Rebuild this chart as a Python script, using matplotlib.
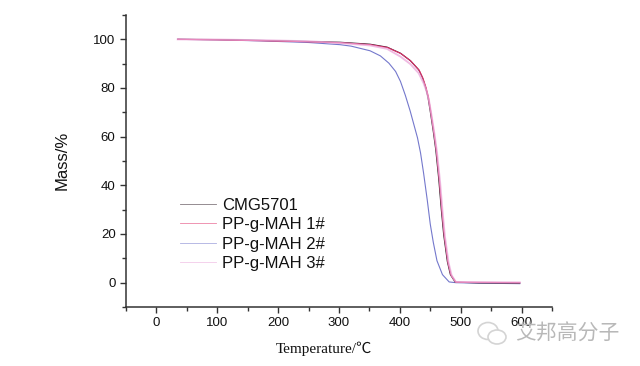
import matplotlib
matplotlib.use('Agg')
import matplotlib.pyplot as plt
from matplotlib.patches import Ellipse
from matplotlib.ticker import MultipleLocator

# values
temp_cmg = [35, 100, 180, 250, 302, 351, 379, 401, 417, 431, 437, 442, 446, 450, 455, 459, 464, 468, 472, 478, 483, 491, 530, 597]
mass_cmg = [100, 99.9, 99.5, 99.1, 98.8, 98.0, 96.8, 94.3, 91.3, 87.5, 84.3, 80.5, 76.5, 70.3, 62, 54.6, 42.3, 30.3, 19.7, 8.7, 3.3, 0.2, -0.1, -0.2]

temp_1 = [35, 100, 180, 250, 302, 352, 380, 402, 418, 432, 438, 443, 447, 451, 456, 460, 465, 469, 473, 479, 484, 492, 530, 597]
mass_1 = [100, 99.8, 99.4, 99.0, 98.6, 97.8, 96.6, 94.1, 91.1, 87.2, 84, 80.2, 76.2, 70, 61.8, 54.5, 42.0, 30.0, 19.5, 8.5, 3.2, 0.2, 0.1, 0.0]

temp_2 = [35, 100, 180, 250, 302, 320, 351, 368, 382, 393, 401, 409, 417, 423, 429, 434, 439, 445, 450, 455, 461, 470, 481, 492, 530, 597]
mass_2 = [100, 99.8, 99.3, 98.7, 97.8, 97.2, 95.3, 93.2, 90.2, 86.8, 82.7, 77, 70.5, 65, 59.5, 53.3, 45, 34, 24, 16.5, 9, 3.3, 0.3, 0, -0.2, -0.4]

temp_3 = [35, 100, 180, 250, 302, 351, 379, 401, 417, 431, 439, 444, 448, 452, 457, 461, 466, 470, 474, 480, 485, 492, 530, 597]
mass_3 = [100, 99.9, 99.6, 99.2, 98.5, 97.5, 96.1, 92.9, 89.9, 86.1, 82, 78.6, 74.6, 68.8, 60.8, 53.5, 41.5, 29.5, 19, 8.2, 3, 0.3, 0.2, 0.1]

labels = ['CMG5701', 'PP-g-MAH 1#', 'PP-g-MAH 2#', 'PP-g-MAH 3#']
colors = ['#30202a', '#e0306a', '#7478cc', '#eba6da']

fig = plt.figure(figsize=(6.4, 3.66), dpi=100)
ax = fig.add_axes([126 / 640, 59 / 366, 426 / 640, 292 / 366])

ax.plot(temp_2, mass_2, color=colors[2], lw=0.8, label=labels[2])
ax.plot(temp_cmg, mass_cmg, color=colors[0], lw=0.8, label=labels[0])
ax.plot(temp_1, mass_1, color=colors[1], lw=0.8, label=labels[1])
ax.plot(temp_3, mass_3, color=colors[3], lw=1.4, alpha=0.75, label=labels[3])

ax.set_xlim(-50, 650)
ax.set_ylim(-10, 110)
ax.xaxis.set_minor_locator(MultipleLocator(50))
ax.yaxis.set_minor_locator(MultipleLocator(10))
ax.set_xticks(range(0, 601, 100))
ax.set_yticks(range(0, 101, 20))

for side in ['top', 'right']:
    ax.spines[side].set_visible(False)
for side in ['left', 'bottom']:
    ax.spines[side].set_color('#333333')
    ax.spines[side].set_linewidth(1.1)
ax.tick_params(which='major', length=4.5, width=1, color='#333333', labelsize=9.5, pad=3)
ax.tick_params(which='minor', length=2.8, width=1, color='#333333')
for t in ax.get_xticklabels() + ax.get_yticklabels():
    t.set_fontfamily('Liberation Sans')
    t.set_color('#111111')

fig.text(324 / 640, 1 - 349 / 366, 'Temperature/℃', family=['Liberation Serif', 'Noto Sans CJK SC'],
         fontsize=11, ha='center', va='center', color='#111111')
fig.text(62 / 640, 1 - 160 / 366, 'Mass/%', family='Liberation Sans',
         fontsize=12, rotation=90, ha='center', va='center', color='#111111')

handles, names = ax.get_legend_handles_labels()
order = [names.index(n) for n in labels]
leg = ax.legend([handles[i] for i in order], labels, frameon=False,
                loc='upper left', bbox_to_anchor=(54 / 426, 1 - 183 / 292),
                prop={'family': 'Liberation Sans', 'size': 12},
                handlelength=2.16, handletextpad=0.36, labelspacing=0.26,
                borderpad=0, borderaxespad=0)
for line in leg.get_lines():
    line.set_linewidth(0.6)
    line.set_alpha(0.6)
for t in leg.get_texts():
    t.set_color('#111111')

# watermark
overlay = fig.add_axes([0, 0, 1, 1], facecolor='none')
overlay.set_xlim(0, 640)
overlay.set_ylim(366, 0)
overlay.axis('off')
overlay.add_patch(Ellipse((488, 331), 20, 17, fill=False, ec='#d4d4d4', lw=1.2))
overlay.add_patch(Ellipse((497, 337), 18, 14, fc='white', ec='#d4d4d4', lw=1.2))
overlay.text(567, 334, '艾邦高分子', family='Noto Sans CJK SC', fontsize=15,
             color='#b8b8b8', ha='center', va='center')

fig.savefig('out.png', dpi=100)
